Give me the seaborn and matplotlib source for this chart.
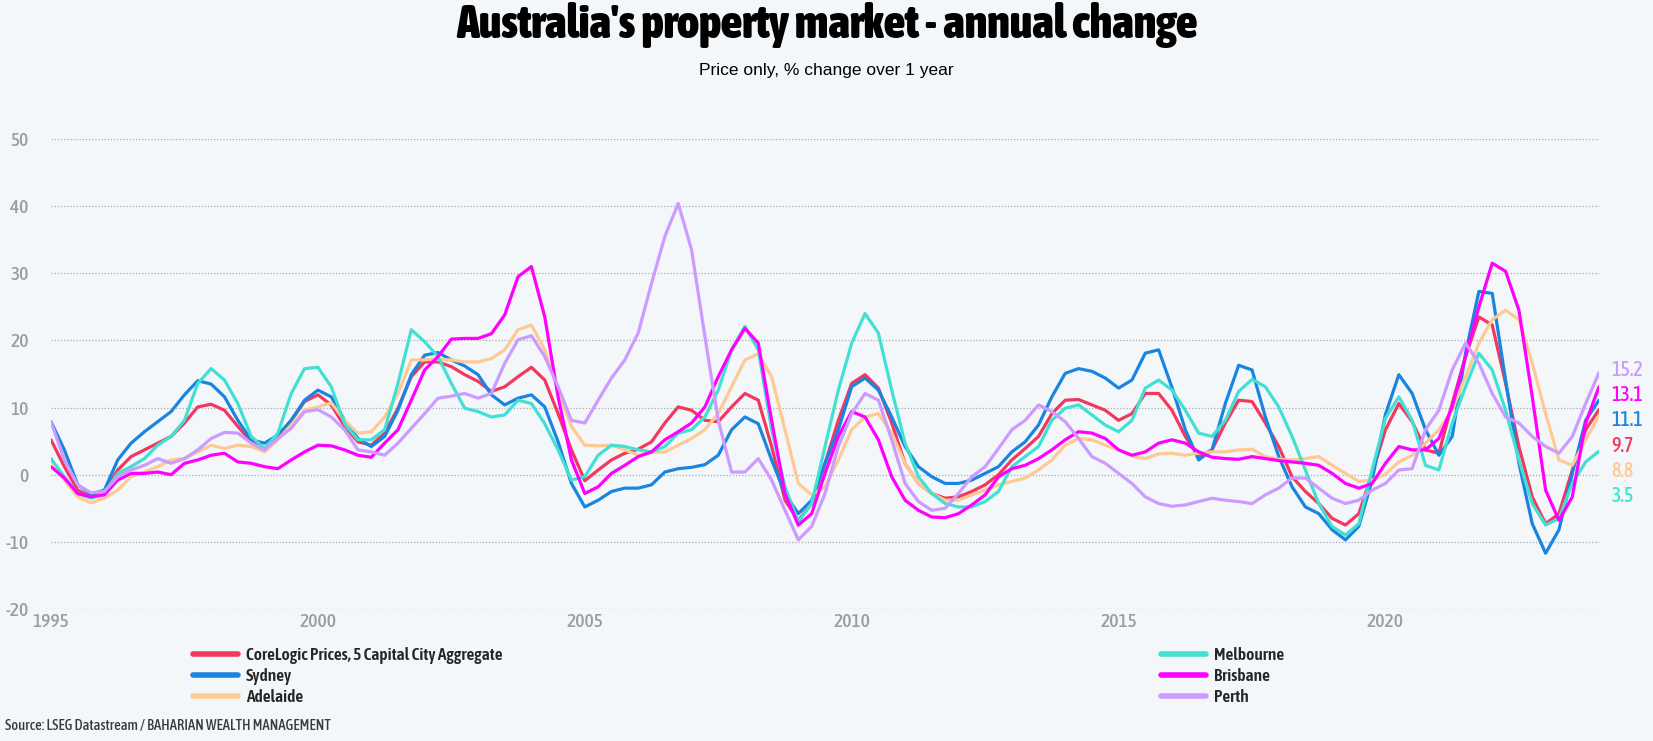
import matplotlib
matplotlib.use("Agg")
import matplotlib.pyplot as plt
from matplotlib.lines import Line2D
from matplotlib import font_manager as fm
import numpy as np
import pandas as pd
import seaborn as sns

# ---------------- data (quarterly, % change over 1 year) ----------------
start_year = 1995.0
step_years = 0.25

aggregate = [5.2, 1.2, -2.3, -3.3, -2.5, 0.7, 2.7, 3.7, 4.7, 5.7, 7.7, 10.1, 10.5, 9.6, 7.2, 4.9,
             3.9, 5.7, 8.1, 10.9, 11.9, 10.4, 7.2, 4.9, 4.4, 6.2, 9.9, 14.6, 16.8, 16.8, 16.1, 14.9,
             13.9, 12.4, 13.1, 14.6, 16.0, 14.1, 9.1, 3.7, -0.9, 0.7, 2.2, 3.2, 3.8, 4.9, 7.7, 10.1,
             9.6, 8.1, 7.9, 10.1, 12.1, 11.1, 4.2, -3.8, -6.8, -4.3, 1.7, 8.1, 13.6, 14.9, 12.9, 7.7,
             1.7, -1.3, -2.8, -3.5, -3.3, -2.5, -1.5, 0.0, 2.2, 3.9, 5.7, 9.1, 11.1, 11.2, 10.4, 9.6,
             8.1, 9.1, 12.1, 12.1, 9.6, 5.7, 2.7, 3.7, 7.7, 11.1, 10.9, 7.7, 4.2, -0.3, -2.5, -4.3,
             -6.5, -7.5, -5.8, 0.2, 6.7, 10.6, 7.9, 3.7, 3.2, 10.6, 17.6, 23.5, 22.3, 13.6, 4.2, -3.3,
             -7.3, -5.8, 0.7, 6.7, 9.7]
sydney = [7.9, 3.7, -1.5, -2.9, -2.3, 2.2, 4.7, 6.4, 7.9, 9.4, 11.9, 14.0, 13.5, 11.6, 8.1, 5.2,
          4.7, 5.9, 8.1, 11.1, 12.6, 11.6, 8.1, 5.4, 4.2, 5.7, 9.6, 14.9, 17.8, 18.2, 17.1, 16.2,
          14.9, 11.9, 10.4, 11.4, 11.9, 10.1, 4.9, -1.3, -4.8, -3.8, -2.5, -2.0, -2.0, -1.5, 0.4, 0.9,
          1.1, 1.5, 2.9, 6.7, 8.6, 7.6, 2.2, -2.8, -5.8, -3.8, 1.7, 6.7, 13.1, 14.4, 12.6, 8.6,
          4.2, 1.2, -0.3, -1.3, -1.3, -0.8, 0.2, 1.2, 3.4, 4.9, 7.4, 11.6, 15.1, 15.8, 15.4, 14.4,
          12.9, 14.1, 18.1, 18.6, 13.0, 6.7, 2.2, 3.7, 10.6, 16.3, 15.6, 8.6, 2.7, -1.8, -4.8, -5.8,
          -8.2, -9.7, -7.7, -0.8, 9.0, 14.9, 12.1, 6.7, 2.9, 5.7, 18.1, 27.3, 27.0, 14.1, 1.7, -7.3,
          -11.7, -8.2, 0.2, 8.1, 11.1]
adelaide = [2.2, -0.8, -3.3, -4.2, -3.5, -2.3, -0.3, 0.4, 1.2, 2.2, 2.4, 3.4, 4.4, 3.9, 4.4, 4.2,
            3.4, 5.2, 7.4, 9.6, 10.1, 10.7, 8.1, 6.2, 6.4, 8.6, 12.1, 17.1, 17.1, 17.2, 17.1, 16.8,
            16.8, 17.3, 18.6, 21.6, 22.3, 18.6, 12.6, 7.2, 4.4, 4.3, 4.4, 3.7, 2.9, 3.3, 3.4, 4.4,
            5.4, 6.7, 9.1, 13.1, 17.1, 18.0, 14.6, 6.7, -1.3, -3.0, -1.8, 2.2, 6.7, 8.6, 9.1, 6.2,
            1.7, -1.3, -2.8, -3.8, -3.8, -3.0, -2.3, -1.5, -1.0, -0.5, 0.7, 2.2, 4.4, 5.4, 5.2, 4.4,
            3.7, 2.8, 2.4, 3.1, 3.2, 2.9, 3.2, 3.4, 3.4, 3.7, 3.8, 2.7, 2.3, 2.2, 2.4, 2.7,
            1.4, 0.2, -1.0, -0.8, 0.1, 1.9, 2.9, 4.7, 6.7, 9.6, 14.6, 19.6, 23.1, 24.5, 23.1, 16.6,
            9.1, 2.2, 1.4, 5.2, 8.8]
melbourne = [2.4, -0.3, -2.8, -3.5, -2.8, 0.2, 1.2, 2.4, 4.4, 5.7, 8.1, 13.6, 15.8, 14.1, 10.6, 5.7,
             3.9, 6.2, 12.1, 15.8, 16.0, 13.1, 7.6, 5.2, 5.2, 6.7, 13.6, 21.6, 19.8, 17.6, 13.6, 9.9,
             9.4, 8.6, 8.9, 11.1, 10.6, 7.6, 3.7, -0.8, -0.3, 2.9, 4.4, 4.2, 3.7, 3.4, 4.2, 6.2,
             6.7, 8.6, 12.6, 18.6, 22.1, 18.6, 6.7, -1.8, -7.0, -4.3, 4.2, 12.6, 19.6, 24.0, 21.1, 12.6,
             4.7, -0.3, -2.8, -4.3, -4.8, -4.8, -4.0, -2.5, 1.2, 2.7, 4.2, 8.1, 9.9, 10.4, 8.9, 7.4,
             6.4, 8.1, 12.9, 14.1, 12.6, 9.6, 6.2, 5.7, 8.1, 12.4, 14.2, 13.1, 10.1, 5.7, 0.7, -4.3,
             -7.7, -9.0, -7.3, 0.7, 8.4, 11.6, 8.1, 1.4, 0.7, 7.7, 13.1, 18.1, 15.6, 9.6, 2.2, -4.3,
             -7.5, -6.5, -1.3, 1.9, 3.5]
brisbane = [1.2, -0.5, -2.8, -3.3, -3.0, -0.8, 0.2, 0.2, 0.4, 0.0, 1.7, 2.2, 2.9, 3.2, 1.9, 1.7,
            1.2, 0.9, 2.2, 3.4, 4.4, 4.3, 3.7, 2.9, 2.6, 4.7, 6.7, 11.1, 15.6, 17.6, 20.2, 20.3,
            20.3, 21.0, 23.8, 29.5, 31.0, 23.5, 11.6, 2.2, -2.8, -1.8, 0.2, 1.4, 2.7, 3.4, 5.2, 6.4,
            7.7, 10.1, 14.6, 18.6, 21.8, 19.6, 8.1, -2.8, -7.5, -5.8, 0.2, 5.7, 9.4, 8.6, 5.2, -0.3,
            -3.8, -5.3, -6.3, -6.4, -5.8, -4.5, -3.0, -0.3, 0.9, 1.4, 2.4, 3.7, 5.2, 6.4, 6.2, 5.4,
            3.7, 2.9, 3.4, 4.7, 5.2, 4.7, 3.4, 2.6, 2.4, 2.3, 2.7, 2.4, 2.1, 1.9, 1.7, 1.4,
            0.2, -1.3, -2.0, -1.3, 1.7, 4.2, 3.7, 3.7, 5.4, 10.1, 17.6, 25.0, 31.5, 30.3, 24.5, 11.6,
            -2.3, -6.8, -3.3, 7.7, 13.1]
perth = [7.9, 2.2, -1.5, -2.7, -2.5, -0.3, 0.7, 1.4, 2.4, 1.7, 2.4, 3.7, 5.4, 6.3, 6.2, 4.7,
         3.7, 5.4, 6.9, 9.4, 9.7, 8.6, 6.7, 3.7, 3.4, 2.9, 4.7, 6.9, 9.1, 11.4, 11.7, 12.1,
         11.4, 12.1, 16.6, 20.1, 20.7, 17.6, 13.1, 8.1, 7.7, 11.1, 14.4, 17.1, 21.1, 28.5, 35.5, 40.4,
         33.5, 20.6, 8.1, 0.4, 0.4, 2.4, -0.8, -5.3, -9.7, -7.7, -2.8, 4.2, 9.1, 12.1, 11.1, 5.2,
         -1.3, -4.0, -5.3, -5.0, -2.8, -0.3, 1.2, 3.9, 6.7, 8.1, 10.4, 9.4, 7.9, 5.4, 2.7, 1.7,
         0.2, -1.3, -3.3, -4.3, -4.7, -4.5, -4.0, -3.5, -3.8, -4.0, -4.3, -3.0, -2.0, -0.5, -0.5, -2.0,
         -3.5, -4.3, -3.8, -2.3, -1.3, 0.7, 0.9, 6.7, 9.6, 15.6, 19.6, 16.6, 12.1, 8.6, 7.7, 5.7,
         4.2, 3.2, 5.7, 10.6, 15.2]

series_names = ["CoreLogic Prices, 5 Capital City Aggregate", "Sydney", "Adelaide",
                "Melbourne", "Brisbane", "Perth"]
series_values = [aggregate, sydney, adelaide, melbourne, brisbane, perth]
series_colors = ["#F2385F", "#1985E0", "#FFC994", "#42E0D2", "#FF00FF", "#CB9BFF"]

x_ticks = [1995, 2000, 2005, 2010, 2015, 2020]
y_ticks = [-20, -10, 0, 10, 20, 30, 40, 50]

title = "Australia's property market - annual change"
subtitle = "Price only, % change over 1 year"
source = "Source: LSEG Datastream / BAHARIAN WEALTH MANAGEMENT"

# ---------------- build long-form table ----------------
frames = []
for name, vals in zip(series_names, series_values):
    t = start_year + step_years * np.arange(len(vals))
    frames.append(pd.DataFrame({"date": t, "value": vals, "series": name}))
df = pd.concat(frames, ignore_index=True)

# ---------------- fonts: look for a condensed face ----------------
def _w(f):
    w = f.weight
    if isinstance(w, str):
        w = fm.weight_dict.get(w, 400)
    return w

cond = []
for f in fm.fontManager.ttflist:
    key = (f.name + " " + f.fname).lower()
    if f.style != "normal":
        continue
    if (f.stretch in ("condensed", "semi-condensed", "extra-condensed", "ultra-condensed")
            or "narrow" in key or "condensed" in key or "cond" in key.split("/")[-1]):
        cond.append(f)

def pick(weight):
    if not cond:
        return None
    best = min(cond, key=lambda f: (abs(_w(f) - weight), f.fname))
    return best.fname

def fp(weight, size):
    fn = pick(weight)
    if fn is None:
        return fm.FontProperties(family="DejaVu Sans", weight=weight, size=size)
    return fm.FontProperties(fname=fn, size=size)

# ---------------- style ----------------
BG = "#F4F7FA"
sns.set_theme(style="white")
plt.rcParams["font.family"] = ["DejaVu Sans"]
plt.rcParams["figure.facecolor"] = BG
plt.rcParams["axes.facecolor"] = BG

W, H = 1653, 741
fig = plt.figure(figsize=(W / 100, H / 100), dpi=100)
ax = fig.add_axes([51 / W, 1 - 609 / H, (1599 - 51) / W, (609 - 139) / H])

palette = dict(zip(series_names, series_colors))
sns.lineplot(data=df, x="date", y="value", hue="series", hue_order=series_names,
             palette=palette, linewidth=2.3, legend=False, ax=ax, estimator=None)

t_end = start_year + step_years * (len(aggregate) - 1)
ax.set_xlim(start_year, t_end)
ax.set_ylim(-20, 50)
ax.set_xticks(x_ticks)
ax.set_xticklabels([str(x) for x in x_ticks])
ax.set_yticks(y_ticks)
ax.set_yticklabels([str(y) for y in y_ticks])
ax.set_xlabel("")
ax.set_ylabel("")
for s in ax.spines.values():
    s.set_visible(False)
ax.grid(axis="y", linestyle=(0, (1, 1.5)), color="#A8ABAF", linewidth=0.9)
ax.grid(axis="x", visible=False)
ax.set_axisbelow(True)
ax.tick_params(axis="y", length=0, pad=16, labelcolor="#9C9C9C")
ax.tick_params(axis="x", length=0, pad=3, labelcolor="#9C9C9C")
tick_fp = fp(500, 14)
for lab in ax.get_yticklabels() + ax.get_xticklabels():
    lab.set_fontproperties(tick_fp)

# ---------------- end labels ----------------
finals = [(vals[-1], name, col) for name, vals, col in zip(series_names, series_values, series_colors)]
finals.sort(key=lambda r: -r[0])
top_val = finals[0][0]
end_fp = fp(500, 14.5)
for i, (v, name, col) in enumerate(finals):
    ax.annotate(f"{v:.1f}", xy=(t_end, top_val), xycoords="data",
                xytext=(9, 2 - i * 18.2), textcoords="offset points",
                ha="left", va="center", color=col, fontproperties=end_fp,
                annotation_clip=False)

# ---------------- titles ----------------
fig.text(0.5, 1 - 25 / H, title, ha="center", va="center",
         fontproperties=fp(900, 33.5), color="black")
fig.text(0.5, 1 - 71 / H, subtitle, ha="center", va="center", fontsize=12.5,
         color="black", family=["Liberation Sans", "DejaVu Sans"])
fig.text(5 / W, 1 - 726 / H, source, ha="left", va="center",
         fontproperties=fp(500, 10.5), color="#3A3A3A")

# ---------------- legends ----------------
handles = [Line2D([0], [0], color=c, lw=4) for c in series_colors]
leg_kw = dict(frameon=False, handlelength=2.6, handletextpad=0.45, labelspacing=0.24,
              borderpad=0, borderaxespad=0, loc="upper left", prop=fp(600, 12.5))
leg1 = fig.legend(handles[:3], series_names[:3], bbox_to_anchor=(193 / W, 1 - 647 / H), **leg_kw)
leg2 = fig.legend(handles[3:], series_names[3:], bbox_to_anchor=(1161 / W, 1 - 647 / H), **leg_kw)

fig.savefig("out.png", dpi=100, facecolor=BG)
